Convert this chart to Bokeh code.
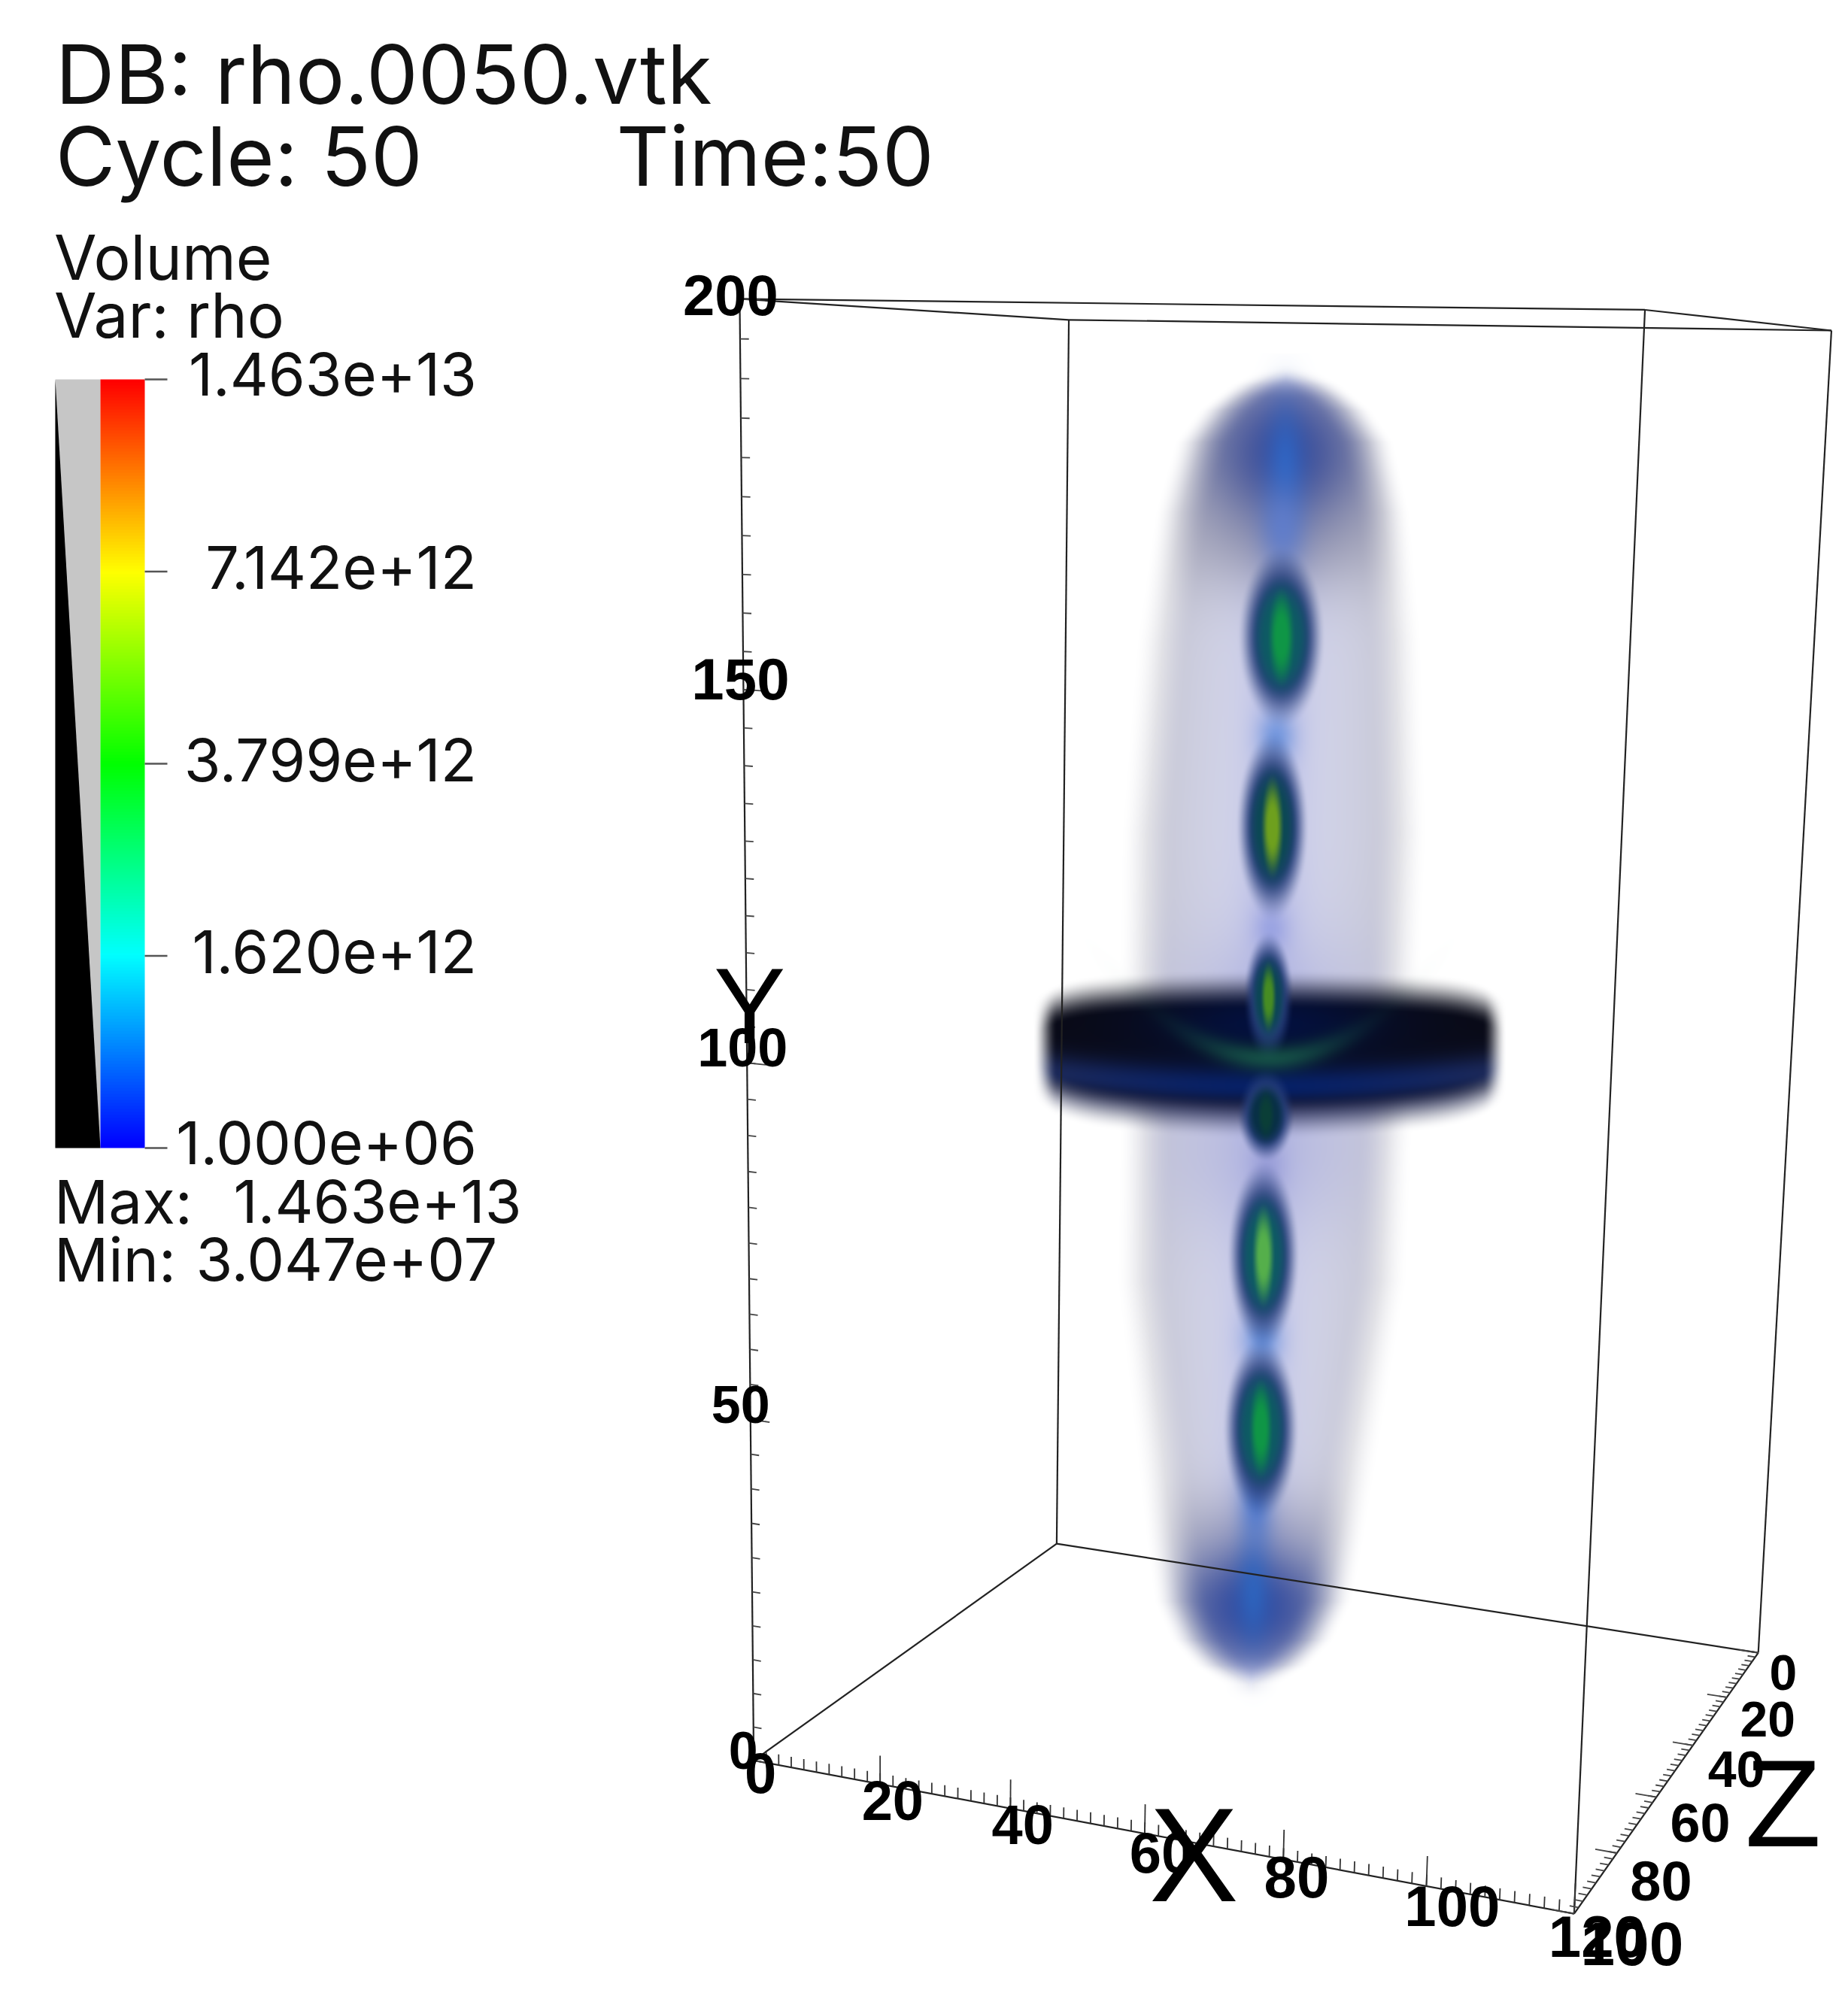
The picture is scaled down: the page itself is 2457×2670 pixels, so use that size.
import numpy as np
from bokeh.plotting import figure
from bokeh.models import Range1d, LinearColorMapper
from bokeh.embed import file_html
from bokeh.resources import INLINE
from bokeh.core.properties import value

# ---- chart content -------------------------------------------------------
TITLE_1 = "DB: rho.0050.vtk"
TITLE_2 = "Cycle: 50"
TITLE_3 = "Time:50"
LEGEND_1 = "Volume"
LEGEND_2 = "Var: rho"
BAR_LABELS = ["1.463e+13", "7.142e+12", "3.799e+12", "1.620e+12", "1.000e+06"]
BAR_COLORS = ["#ff0000", "#ffff00", "#00ff00", "#00ffff", "#0000ff"]
MAX_TEXT = "1.463e+13"
MIN_TEXT = "3.047e+07"

X_MAX, Y_MAX, Z_MAX = 120, 200, 100
X_TICKS = [0, 20, 40, 60, 80, 100, 120]
Y_TICKS = [0, 50, 100, 150, 200]
Z_TICKS = [0, 20, 40, 60, 80, 100]
X_SIZES = [76, 74, 74, 76, 78, 76, 78]
Y_SIZES = [70, 70, 72, 78, 76]
Z_SIZES = [66, 66, 68, 72, 74, 82]

# density knots of the volume (shrunk-view coordinates)
ENV_Y = [288, 300, 320, 345, 400, 500, 650, 800, 900, 1000, 1100, 1200, 1250, 1280, 1300, 1315]
ENV_W = [0, 22, 46, 64, 78, 90, 98, 96, 93, 92, 78, 64, 56, 42, 24, 0]
BEAD_X = [1000, 993, 990, 988, 986, 984]
BEAD_Y = [497, 645, 778, 870, 980, 1115]
BEAD_W = [24, 20, 14, 16, 20, 21]
BEAD_H = [50, 52, 36, 26, 52, 50]
BEAD_CORE = [(15, 150, 70), (110, 160, 30), (70, 140, 35), (10, 62, 55), (85, 175, 75), (15, 150, 70)]
BEAD_MID = [(14, 90, 100), (12, 72, 85), (12, 70, 85), (8, 48, 70), (14, 90, 100), (14, 90, 100)]
KNOT_X = [1001, 996, 992, 989, 985, 980]
KNOT_Y = [412, 575, 725, 912, 1045, 1170]
KNOT_W = [12, 10, 9, 9, 10, 9]
KNOT_H = [24, 14, 13, 16, 14, 26]
KNOT_RGB = [(95, 125, 205), (105, 145, 220), (150, 160, 225), (150, 155, 215), (95, 140, 220), (70, 115, 205)]

S = 2457 / 1443
W, H = 2441, 2654


def Y(py):
    return 2662 - np.asarray(py, dtype=float)


# ---- camera: calibrated on the eight corners of the box -------------------
world = [(0, 0, Z_MAX), (0, 0, 0), (X_MAX, 0, 0), (X_MAX, 0, Z_MAX),
         (0, Y_MAX, Z_MAX), (0, Y_MAX, 0), (X_MAX, Y_MAX, 0), (X_MAX, Y_MAX, Z_MAX)]
anchor = [(1005, 2341), (1401, 2052), (2339, 2196), (2091, 2545),
          (982, 395), (1422, 426), (2435, 439), (2185, 412)]
rows = []
for (a, b, c), (u, v) in zip(world, anchor):
    a, b, c = a / 100, b / 100, c / 100
    u, v = u / 1000, v / 1000
    rows.append([a, b, c, 1, 0, 0, 0, 0, -u * a, -u * b, -u * c, -u])
    rows.append([0, 0, 0, 0, a, b, c, 1, -v * a, -v * b, -v * c, -v])
CAM = np.linalg.svd(np.array(rows))[2][-1].reshape(3, 4)


def project(a, b, c):
    a, b, c = np.broadcast_arrays(np.asarray(a, float) / 100, np.asarray(b, float) / 100, np.asarray(c, float) / 100)
    q = CAM @ np.array([a, b, c, np.ones_like(a)], dtype=float)
    return q[0] / q[2] * 1000, q[1] / q[2] * 1000


# ---- volume image ---------------------------------------------------------
px0, px1, py0, py1 = 1320, 2060, 470, 2290
gx, gy = np.meshgrid(np.arange(px0, px1) / S, np.arange(py0, py1) / S)
gx = gx.astype(np.float32)
gy = gy.astype(np.float32)


def sstep(a, b, t):
    f = np.clip((t - a) / (b - a), 0, 1)
    return f * f * (3 - 2 * f)


def over(img, rgb, alpha):
    alpha = alpha[..., None]
    return img * (1 - alpha) + np.asarray(rgb, dtype=np.float32) * alpha


def gauss(t):
    return np.exp(-0.5 * t * t)


img = np.ones(gx.shape + (3,), dtype=np.float32) * 255
ax = 1003 - (gy - 320) * 26 / 970
u = gx - ax
hw = np.interp(gy, ENV_Y, ENV_W)
edge = 1 - sstep(hw - 22, hw + 22, np.abs(u))
edge *= sstep(283, 312, gy) * (1 - sstep(1290, 1328, gy))
rel = np.clip(np.abs(u) / np.maximum(hw, 1), 0, 1)
inner = (1 - rel)[..., None] ** 0.55
col = np.array([194, 194, 204], np.float32) * (1 - inner) + np.array([214, 216, 240], np.float32) * inner
img = over(img, col, edge)
# darker mid-plane shoulders near the disc
img = over(img, (165, 168, 215), gauss((gy - 790) / 45) * gauss(u / 55) * edge * 0.55)
img = over(img, (165, 168, 215), gauss((gy - 900) / 45) * gauss(u / 55) * edge * 0.55)
# axis stem
img = over(img, (165, 170, 225), gauss(u / 18) * edge * 0.5)
# caps: grey dome first, then the blue core
img = over(img, (150, 150, 170), gauss((gx - 1003) / 72) * gauss((gy - 420) / 32) * edge * 0.6)
img = over(img, (150, 150, 172), gauss((gx - 978) / 72) * gauss((gy - 1195) / 26) * edge * 0.4)
img = over(img, (118, 118, 145), gauss((gx - 1003) / 66) * gauss((gy - 355) / 44) * edge * 0.85)
img = over(img, (112, 114, 150), gauss((gx - 978) / 60) * gauss((gy - 1255) / 32) * edge * 0.85)
img = over(img, (55, 75, 155), gauss((gx - 1003) / 38) * gauss((gy - 352) / 38) * edge * 0.95)
img = over(img, (50, 75, 160), gauss((gx - 978) / 38) * gauss((gy - 1255) / 32) * edge * 0.98)
img = over(img, (45, 100, 195), gauss((gx - 1003) / 10) * gauss((gy - 362) / 30) * 0.9)
img = over(img, (45, 100, 190), gauss((gx - 978) / 9) * gauss((gy - 1243) / 26) * 0.9)
# light knots
for kx, ky, kw, kh, rgb in zip(KNOT_X, KNOT_Y, KNOT_W, KNOT_H, KNOT_RGB):
    img = over(img, rgb, gauss((gx - kx) / kw) * gauss((gy - ky) / kh) * 0.85)


def bead(img, bx, by, bw, bh, core, mid):
    r = np.sqrt(((gx - bx) / bw) ** 2 + ((gy - by) / bh) ** 2)
    rc = np.sqrt(((gx - bx) / (bw * 0.42)) ** 2 + ((gy - by) / (bh * 0.72)) ** 2)
    rim = np.array([38, 62, 122], np.float32)
    c = rim[None, None, :] * np.ones(r.shape + (1,), np.float32)
    mix = (1 - sstep(0.5, 1.05, r))[..., None]
    c = c * (1 - mix) + np.array(mid, np.float32) * mix
    mix = (1 - sstep(0.35, 1.15, rc))[..., None]
    c = c * (1 - mix) + np.array(core, np.float32) * mix
    return over(img, c, 1 - sstep(0.75, 1.45, r))


# disc
dx = gx - 991
fr = dx / 178
top = 756 + 8 * fr ** 2 + 10 * fr ** 10
bot = 890 - 16 * fr ** 2 - 10 * fr ** 10
disc = sstep(top, top + 32, gy) * (1 - sstep(bot - 34, bot, gy)) * (1 - sstep(166, 185, np.abs(dx)))
band = 848 - 12 * fr ** 2
c = np.ones(gx.shape + (3,), np.float32) * np.array([9, 10, 22], np.float32)
m = (gauss(dx / 65) * gauss((gy - 800) / 22))[..., None]
c = c * (1 - m) + np.array([3, 16, 62], np.float32) * m
m = (gauss((gy - band) / 11) * 0.85)[..., None]
edge_mix = (np.abs(fr) ** 1.5)[..., None]
bandcol = np.array([5, 35, 115], np.float32) * (1 - edge_mix) + np.array([32, 46, 98], np.float32) * edge_mix
c = c * (1 - m) + bandcol * m
m = (sstep(band + 2, band + 22, gy))[..., None]
c = c * (1 - m) + np.array([24, 30, 70], np.float32) * m
img = over(img, c, disc)
for bx, by, bw, bh, core, mid in zip(BEAD_X, BEAD_Y, BEAD_W, BEAD_H, BEAD_CORE, BEAD_MID):
    img = bead(img, bx, by, bw, bh, core, mid)
arc = 826 - 16 * (dx / 60) ** 2
img = over(img, (25, 98, 76), gauss((gy - arc) / 7) * gauss(dx / 42) * 0.75)

rgba = np.zeros(gx.shape, dtype=np.uint32)
view = rgba.view(np.uint8).reshape(gx.shape + (4,))
view[..., :3] = np.clip(img + 0.5, 0, 255).astype(np.uint8)
view[..., 3] = 255
rgba = rgba[::-1]

# ---- figure ---------------------------------------------------------------
p = figure(width=W, height=H, x_range=Range1d(0, W), y_range=Range1d(8, 8 + H),
           output_backend="svg", toolbar_location=None, min_border=0,
           background_fill_color="white", border_fill_color="white", outline_line_color=None)
p.axis.visible = False
p.grid.visible = False

p.image_rgba(image=[rgba], x=px0, y=Y(py1), dw=px1 - px0, dh=py1 - py0)


def seg(a0, b0, c0, a1, b1, c1, width=2.2, color="#222222"):
    x0, y0 = project(a0, b0, c0)
    x1, y1 = project(a1, b1, c1)
    p.segment(np.atleast_1d(x0), Y(np.atleast_1d(y0)), np.atleast_1d(x1), Y(np.atleast_1d(y1)),
              line_color=color, line_width=width)


# box
for b in (0, Y_MAX):
    seg(0, b, 0, X_MAX, b, 0)
    seg(0, b, Z_MAX, X_MAX, b, Z_MAX)
    seg(0, b, 0, 0, b, Z_MAX)
    seg(X_MAX, b, 0, X_MAX, b, Z_MAX)
for a, c in ((0, 0), (0, Z_MAX), (X_MAX, 0), (X_MAX, Z_MAX)):
    seg(a, 0, c, a, Y_MAX, c)

# axis ticks
xm = np.arange(0, X_MAX + 1, 2)
seg(xm, 0, Z_MAX, xm, 1.6, Z_MAX, width=1.8, color="#333333")
xt = np.array(X_TICKS)
seg(xt, 0, Z_MAX, xt, 4.2, Z_MAX, width=1.8, color="#333333")
ym = np.arange(0, Y_MAX + 1, 5)
seg(0, ym, Z_MAX, 1.3, ym, Z_MAX, width=1.8, color="#444444")
yt = np.array(Y_TICKS)
seg(0, yt, Z_MAX, 3, yt, Z_MAX, width=1.8, color="#444444")
zm = np.arange(0, Z_MAX + 1, 2)
seg(X_MAX, 0, zm, X_MAX - 1.2, 0, zm, width=1.8, color="#444444")
zt = np.array(Z_TICKS)
seg(X_MAX, 0, zt, X_MAX - 3, 0, zt, width=1.8, color="#444444")

# axis labels
arial = value("Liberation Sans")


def labels(xs, ys, texts, sizes, style):
    p.text(x=list(xs), y=list(Y(ys)), text=[str(t) for t in texts],
           text_font=arial, text_font_style=style,
           text_font_size=[f"{s}px" for s in sizes],
           text_align="center", text_baseline="middle", text_color="black")


lx, ly = project(X_TICKS, 0, Z_MAX)
f = np.array(X_TICKS) / X_MAX
labels(lx + 6 + 22 * f + np.array([3, 7, 3, 5, -3, 10, 3]), ly + 20 + 10 * f + np.array([-3, 0, -2, 0, -3, -2, 0]),
       X_TICKS, X_SIZES, "bold")
lx, ly = project(0, Y_TICKS, Z_MAX)
labels(lx + np.array([-14, -13, -6, -4, -12]), ly + np.array([-13, -20, -20, -14, -5]), Y_TICKS, Y_SIZES, "bold")
lx, ly = project(X_MAX, 0, Z_TICKS)
f = np.array(Z_TICKS) / Z_MAX
labels(lx + 33 + 42 * f + np.array([0, 13, 8, 0, -8, 2]), ly + 26 + 14 * f, Z_TICKS, Z_SIZES, "bold")

big = [("X", 932, 1448, 178), ("Y", 585, 785, 143), ("Z", 1392, 1408, 166)]
for t, sx, sy, size in big:
    p.text(x=[sx * S], y=[2662 - sy * S], text=[t], text_font=arial, text_font_size=f"{size}px",
           text_align="center", text_baseline="middle", text_color="black")

# annotation text
note_font = value("Inter")


def note(t, sx, sy, size, align="left"):
    p.text(x=[sx * S], y=[2662 - sy * S], text=[t], text_font=note_font, text_font_size=f"{size}px",
           text_align=align, text_baseline="middle", text_color="#111111")


note(TITLE_1, 43, 57, 109)
note(TITLE_2, 43, 121, 109)
note(TITLE_3, 481, 121, 109)
note(LEGEND_1, 42, 201, 82)
note(LEGEND_2, 42, 246, 82)
for t, yc in zip(BAR_LABELS, [292, 443, 593, 743, 892]):
    note(t, 372, yc, 79, "right")
note("Max:", 42, 938, 80)
note(MAX_TEXT, 407, 938, 79, "right")
note("Min:", 42, 983, 80)
note(MIN_TEXT, 388, 983, 79, "right")

# colour bar with its opacity ramp
bar_top, bar_bot = 504, 1526
p.quad(left=[73], right=[133], top=Y([bar_top]), bottom=Y([bar_bot]), fill_color="#c6c6c6", line_color=None)
OPACITY_POS = [0.0, 1.0]
OPACITY_VAL = [1.0, 0.0]
ox = 73 + 60 * np.array(OPACITY_VAL)
oy = bar_bot - (bar_bot - bar_top) * np.array(OPACITY_POS)
p.patch(x=[73, *ox], y=list(Y([bar_bot, *oy])), fill_color="black", line_color=None)

stops = np.array([[int(c[i:i + 2], 16) for i in (1, 3, 5)] for c in BAR_COLORS[::-1]], float)
pal = []
for t in np.linspace(0, 4, 256):
    k = min(int(t), 3)
    rgb = stops[k] * (1 - (t - k)) + stops[k + 1] * (t - k)
    pal.append("#%02x%02x%02x" % tuple(int(round(v)) for v in rgb))
mapper = LinearColorMapper(palette=pal, low=0, high=255)
p.image(image=[np.arange(256, dtype=float).reshape(256, 1)], x=133, y=Y(bar_bot), dw=59, dh=bar_bot - bar_top,
        color_mapper=mapper)
tick_y = bar_top + (bar_bot - bar_top) * np.arange(len(BAR_LABELS)) / (len(BAR_LABELS) - 1)
p.segment(x0=[192] * 5, x1=[222] * 5, y0=list(Y(tick_y)), y1=list(Y(tick_y)), line_color="#555555", line_width=2.5)

open("out.html", "w").write(file_html(p, INLINE))
